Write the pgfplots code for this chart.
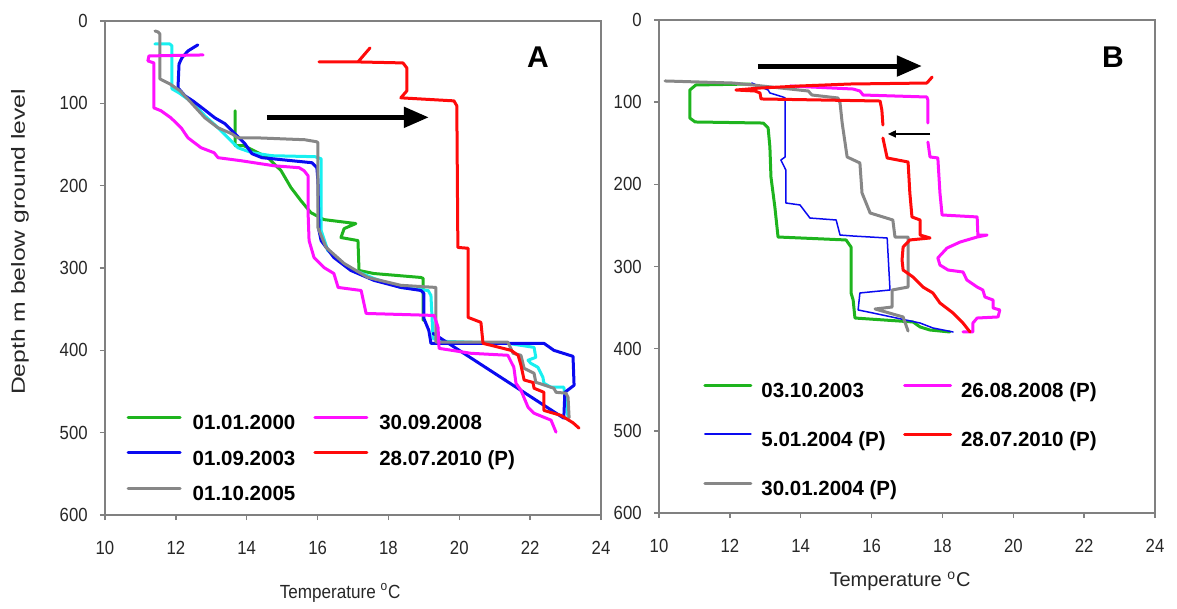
\documentclass[border=0pt]{standalone}
\usepackage{fontspec}
\setmainfont{Liberation Sans}
\usepackage{pgfplots}
\pgfplotsset{compat=1.18}
\usetikzlibrary{arrows.meta}
\definecolor{cGreen}{HTML}{1EB41E}
\definecolor{cBlue}{HTML}{0A0AF0}
\definecolor{cMag}{HTML}{FF10FF}
\definecolor{cRed}{HTML}{FF0A0A}
\definecolor{cGray}{HTML}{878787}
\definecolor{cCyan}{HTML}{18F0F0}
\definecolor{frameGray}{HTML}{808080}

\pgfplotsset{
  profile/.style={
    scale only axis, width=248pt,
    xmin=10, xmax=24, ymin=0, ymax=600, y dir=reverse,
    xtick={10,12,...,24}, ytick={0,100,...,600},
    tick pos=left, tick align=outside, major tick length=2.5pt,
    axis line style={frameGray, line width=0.75pt},
    tick style={frameGray, line width=0.75pt},
    tick label style={font=\fontsize{9.5}{11}\selectfont, text=black!85, xscale=0.88},
    xticklabel style={yshift=-7pt},
    yticklabel style={xshift=-3.5pt},
    /pgf/number format/assume math mode=true,
    label style={font=\fontsize{9.5}{11}\selectfont, text=black!85},
    legend cell align=left,
    every axis plot/.append style={line join=round, line cap=round},
  },
  thick line/.style={line width=1.5pt},
}

\begin{document}
\begin{tikzpicture}
\path[use as bounding box] (0,0) rectangle (588.5pt,304.5pt);

% ---------------- panel A ----------------
\begin{axis}[profile, at={(52.5pt,47pt)}, anchor=south west, height=247pt,
  xlabel={\scalebox{0.9}[1]{Temperature \textsuperscript{o}C}},
  ylabel={\scalebox{1.3}[1]{Depth m below ground level}},
  xlabel style={at={(axis description cs:0.474,-0.158)}, anchor=center},
  ylabel style={at={(axis description cs:-0.1714,0.553)}, anchor=center},
  legend columns=2,
  legend image code/.code={\draw[#1] (0pt,0.36em) -- (26pt,0.36em);},
  legend style={at={(axis description cs:0.043,0.2034)}, anchor=north west,
    draw=none, fill=none, inner sep=0pt,
    font=\bfseries\fontsize{10.25}{12}\selectfont,
    nodes={inner sep=0pt, text height=7.5pt, text depth=2pt},
    row sep=8.25pt,
    /tikz/every odd column/.append style={column sep=5.5pt},
    /tikz/every even column/.append style={column sep=9pt}},
]
% 01.01.2000
\addplot[cGreen, thick line, forget plot] coordinates {
(13.67,109) (13.67,151.5) (13.92,151.5) (14.21,157.6) (14.60,166) (14.97,181.8)
(15.25,202.4) (15.53,218.2) (15.81,232.7) (16.18,241.2) (17.08,246) (16.75,252.1)
(16.66,263) (17.14,266.7) (17.17,303) (17.59,306.7) (18.92,311.5) (18.98,312.7)
(18.98,363.6)};
% unlabelled cyan profile
\addplot[cCyan, thick line, forget plot] coordinates {
(11.41,27.9) (11.83,27.9) (11.89,30.3) (11.89,82.4) (12.09,87.3) (12.48,99.4)
(12.82,115.2) (13.19,129.7) (13.75,153.9) (14.15,160) (14.71,163.6) (15.93,164.8)
(16.10,167.3) (16.10,254.5) (16.29,278.8) (16.86,299.4) (17.59,312.7) (18.35,323.6)
(19.12,327.3) (19.20,333.3) (19.26,385.5) (19.48,389) (21.37,391.5) (22.11,396.4)
(22.16,408.5) (21.94,412) (22.02,415.8) (22.22,420.6) (22.36,432.7) (22.39,440)
(22.59,444.8) (22.95,444.8) (23.07,481)};
% 01.09.2003
\addplot[cBlue, thick line, forget plot] coordinates {
(12.62,29) (12.34,36.4) (12.17,44.8) (12.09,52.1) (12.06,81.2) (12.26,90.9)
(12.48,97) (12.74,105.5) (13.10,117.6) (13.39,124.8) (13.73,139.4) (13.95,149.1)
(14.15,161.2) (14.43,166) (15.28,169.7) (15.84,172.1) (15.98,178.2) (16.01,194)
(16.04,254.5) (16.10,266.7) (16.46,287.3) (16.94,303) (17.59,315) (18.35,323.6)
(18.92,327.3) (19.00,331) (19.00,361.2) (19.14,375.8) (19.20,391.5) (19.48,391.5)
(22.39,391.5) (22.67,400) (23.21,407.3) (23.24,442.4) (22.98,451) (22.95,482.4)
(19.26,379.4)};
% 01.10.2005
\addplot[cGray, thick line, forget plot] coordinates {
(11.41,12.1) (11.50,13.3) (11.55,15.8) (11.55,70.3) (11.83,76.4) (12.12,84.8)
(12.46,100.6) (12.82,117.6) (13.19,129.7) (13.58,137) (13.75,141.8) (14.23,141.8)
(15.64,144.2) (15.98,146.7) (16.01,147.9) (16.01,251) (16.24,275) (16.75,294.5)
(17.42,311.5) (18.35,321) (19.34,323.6) (19.34,390) (21.37,390) (21.52,403.6)
(21.74,406) (21.83,421.8) (22.11,427.9) (22.16,438.8) (22.67,446) (22.73,451)
(23.01,452) (23.07,457) (23.10,482)};
% 30.09.2008
\addplot[cMag, thick line, forget plot] coordinates {
(12.77,41.2) (11.24,42.4) (11.21,48.5) (11.38,50.9) (11.38,105.5) (11.58,109)
(11.86,117.6) (12.15,129.7) (12.34,141.8) (12.71,153.9) (13.08,160) (13.19,166)
(13.84,169.7) (14.77,175.8) (15.48,178.2) (15.62,181.8) (15.73,187.9) (15.73,230.3)
(15.76,266.7) (15.90,287.3) (16.18,299.4) (16.46,306.7) (16.58,323.6) (17.23,327.3)
(17.37,355.2) (19.29,357.6) (19.40,372.1) (19.43,397.6) (20.33,403.6) (21.37,406)
(21.54,420.6) (21.60,440) (21.74,448.5) (21.94,469) (22.11,476.4) (22.59,484.8)
(22.73,499.4)};
% 28.07.2010 (P)
\addplot[cRed, thick line, forget plot] coordinates {
(17.48,32.7) (17.14,49.7) (16.04,49.7) (17.14,49.7) (18.41,50.9) (18.52,57)
(18.52,84.8) (18.35,93.3) (19.85,97) (19.93,103) (19.96,275) (20.25,276)
(20.25,360) (20.61,366) (20.67,391.5) (21.09,396) (21.46,400) (21.66,406)
(21.74,418) (21.83,436) (22.08,439) (22.11,446) (22.39,451) (22.39,473)
(22.87,479) (23.21,488) (23.38,494.5)};
\draw[black, line width=2.5pt, -{Triangle[length=12.5pt, width=10pt]}]
  (axis cs:14.57,117) -- (axis cs:19.14,117);
\node[font=\bfseries\fontsize{15}{18}\selectfont] at (axis cs:22.22,44) {A};
\addlegendimage{cGreen, thick line}\addlegendentry{01.01.2000}
\addlegendimage{cMag, thick line}\addlegendentry{30.09.2008}
\addlegendimage{cBlue, thick line}\addlegendentry{01.09.2003}
\addlegendimage{cRed, thick line}\addlegendentry{28.07.2010 (P)}
\addlegendimage{cGray, thick line}\addlegendentry{01.10.2005}
\end{axis}

% ---------------- panel B ----------------
\begin{axis}[profile, at={(329.5pt,48pt)}, anchor=south west, height=246.5pt,
  xlabel={Temperature \textsuperscript{o}C},
  xlabel style={at={(axis description cs:0.486,-0.138)}, anchor=center, font=\fontsize{10}{12}\selectfont},
  legend columns=2,
  legend image code/.code={\draw[#1] (0pt,0.36em) -- (23pt,0.36em);},
  legend style={at={(axis description cs:0.0887,0.2647)}, anchor=north west,
    draw=none, fill=none, inner sep=0pt,
    font=\bfseries\fontsize{10.25}{12}\selectfont,
    nodes={inner sep=0pt, text height=7.5pt, text depth=2pt},
    row sep=15pt,
    /tikz/every odd column/.append style={column sep=4.5pt},
    /tikz/every even column/.append style={column sep=3pt}},
]
% 03.10.2003
\addplot[cGreen, thick line, forget plot] coordinates {
(12.57,77.9) (11.04,79.1) (10.87,85.2) (10.87,119.3) (11.02,124.1) (12.94,125.4)
(13.08,131.4) (13.13,154.6) (13.16,191) (13.27,227.6) (13.36,264.1) (15.28,267.7)
(15.42,276.3) (15.42,332.2) (15.48,340.8) (15.53,362.7) (17.17,367.5) (17.37,373.6)
(17.65,377.3) (18.21,379.7)};
% 5.01.2004 (P)
\addplot[cBlue, line width=0.75pt, forget plot] coordinates {
(12.62,76.7) (13.08,85.2) (13.13,88.8) (13.50,93.7) (13.56,94.9) (13.56,166.7)
(13.44,170.4) (13.58,182.6) (13.58,222.7) (13.98,225.1) (14.26,241) (15.00,243.4)
(15.11,261.7) (15.48,262.9) (16.44,265.3) (16.52,328.6) (15.67,332.2) (15.62,352.9)
(16.04,356.6) (17.37,368.8) (17.73,374.8) (18.30,379.7)};
% 26.08.2008 (P)
\addplot[cMag, thick line, forget plot] coordinates {
(13.70,80.3) (15.48,84) (15.67,86.4) (15.76,91.3) (17.56,93.7) (17.59,97.4)
(17.59,125.4)};
\addplot[cMag, thick line, forget plot] coordinates {
(17.59,148.5) (17.65,166.7) (17.87,167.9) (17.93,210.5) (17.99,237.3) (18.98,239.7)
(19.00,261.7) (19.26,261.7) (18.98,264.1) (18.50,270.2) (18.13,277.5) (17.87,289.6)
(17.93,298.2) (18.16,304.3) (18.58,306.7) (18.69,316.4) (18.98,325) (19.14,328.6)
(19.20,337.1) (19.43,340.8) (19.43,350.5) (19.62,352.9) (19.57,361.4) (18.98,362.7)
(18.86,368.8) (18.86,379.7) (18.58,379.7)};
% 30.01.2004 (P)
\addplot[cGray, thick line, forget plot] coordinates {
(10.17,74.2) (12.09,76.7) (12.65,79.1) (14.21,86.4) (14.32,91.3) (15.05,94.9)
(15.11,101) (15.17,125.4) (15.31,166.7) (15.67,174) (15.73,210.5) (15.96,234.9)
(16.60,243.4) (16.66,264.1) (17.03,264.1) (17.03,325) (16.58,328.6) (16.58,349.3)
(16.10,351.7) (16.89,361.4) (16.97,371.2) (17.03,378.5)};
% 28.07.2010 (P)
\addplot[cRed, thick line, forget plot] coordinates {
(17.71,69.4) (17.56,76.7) (15.39,77.9) (13.98,80.3) (12.85,82.8) (12.17,85.2)
(12.71,86.4) (12.85,88.8) (12.88,96.1) (16.24,98.6) (16.29,109.5) (16.32,127.8)};
\addplot[cRed, thick line, forget plot] coordinates {
(16.32,143.6) (16.44,167.9) (17.03,172.8) (17.08,210.5) (17.14,239.7) (17.37,243.4)
(17.37,261.7) (17.65,265.3) (17.08,267.7) (16.89,276.3) (16.86,292.1) (16.89,304.3)
(17.17,312.8) (17.45,325) (17.73,332.2) (17.93,344.4) (18.30,356.6) (18.58,368.8)
(18.78,379.7)};
\draw[black, line width=2.5pt, -{Triangle[length=12.5pt, width=10pt]}]
  (axis cs:12.79,56) -- (axis cs:17.42,56);
\draw[black, line width=0.8pt, -{Triangle[length=4pt, width=3.5pt]}]
  (axis cs:17.65,138.7) -- (axis cs:16.46,138.7);
\node[font=\bfseries\fontsize{15}{18}\selectfont] at (axis cs:22.81,45) {B};
\addlegendimage{cGreen, thick line}\addlegendentry{03.10.2003}
\addlegendimage{cMag, thick line}\addlegendentry{26.08.2008 (P)}
\addlegendimage{cBlue, line width=0.75pt}\addlegendentry{5.01.2004 (P)}
\addlegendimage{cRed, thick line}\addlegendentry{28.07.2010 (P)}
\addlegendimage{cGray, thick line}\addlegendentry{30.01.2004 (P)}
\end{axis}
\end{tikzpicture}
\end{document}
